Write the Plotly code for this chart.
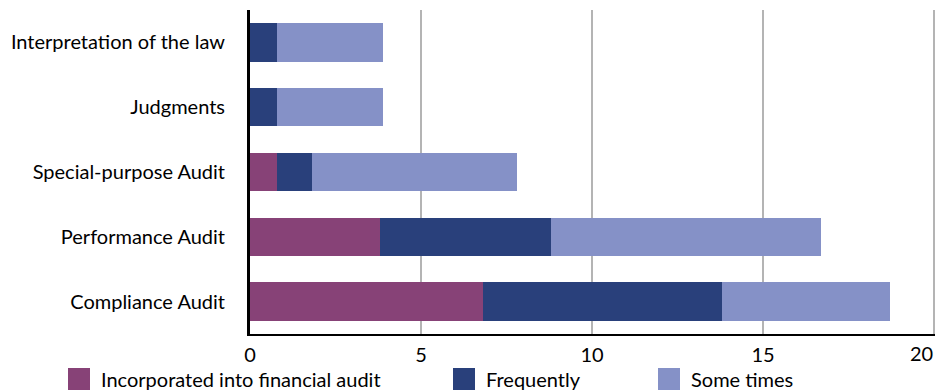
import plotly.graph_objects as go

# Audit types (bottom to top) and counts per frequency
categories = ["Compliance Audit", "Performance Audit", "Special-purpose Audit",
              "Judgments", "Interpretation of the law"]
incorporated = [6.8, 3.8, 0.8, 0.0, 0.0]
frequently = [7.0, 5.0, 1.0, 0.8, 0.8]
some_times = [4.9, 7.9, 6.0, 3.1, 3.1]

series_names = ["Incorporated into financial audit", "Frequently", "Some times"]
series_colors = ["#874277", "#29407b", "#8591c7"]
x_ticks = [0, 5, 10, 15, 20]
x_tick_labels = ["0", "5", "10", "15", "20"]

FONT = "Lato"
FS = 20

fig = go.Figure()
for name, vals, col in zip(series_names, [incorporated, frequently, some_times], series_colors):
    fig.add_trace(go.Bar(
        y=categories, x=vals, name=name, orientation="h",
        marker=dict(color=col, line=dict(width=0)),
        showlegend=False,
    ))

W, H = 943, 391
L, R, T, B = 250, 8, 10, 57
pw = W - L - R
ph = H - T - B

# Legend drawn as coloured squares with labels below the axis
for (lx_px, name, col) in zip([68, 453, 658], series_names, series_colors):
    x0 = (lx_px - L) / pw
    x1 = (lx_px + 22 - L) / pw
    y0 = -(368 + 22 - (H - B)) / ph
    y1 = -(368 - (H - B)) / ph
    fig.add_shape(type="rect", xref="paper", yref="paper",
                  x0=x0, x1=x1, y0=y0, y1=y1,
                  fillcolor=col, line=dict(width=0))
    fig.add_annotation(xref="paper", yref="paper",
                       x=(lx_px + 31 - L) / pw, y=-(379 - (H - B)) / ph,
                       text=name, showarrow=False, xanchor="left", yanchor="middle",
                       font=dict(family=FONT, size=FS, color="black"))

# The last tick label is right-aligned to its gridline so it stays inside the frame
axis_labels = x_tick_labels[:-1] + [""]
fig.add_annotation(xref="x", yref="paper", x=x_ticks[-1], y=-(353 - (H - B)) / ph,
                   text=x_tick_labels[-1], showarrow=False,
                   xanchor="right", yanchor="middle", xshift=1,
                   font=dict(family=FONT, size=FS, color="black"))

fig.update_layout(
    barmode="stack",
    bargap=0.41,
    width=W, height=H,
    margin=dict(l=L, r=R, t=T, b=B, autoexpand=False),
    paper_bgcolor="white",
    plot_bgcolor="white",
    font=dict(family=FONT, size=FS, color="black"),
    xaxis=dict(
        range=[0, 20.03], tickvals=x_ticks, ticktext=axis_labels,
        showgrid=True, gridcolor="#b4b4b4", gridwidth=1.5,
        zeroline=False, showline=True, linecolor="black", linewidth=2,
        ticks="", ticklabelstandoff=2, ticklabeloverflow="allow",
        automargin=False,
    ),
    yaxis=dict(
        categoryorder="array", categoryarray=categories,
        showgrid=False, zeroline=False,
        showline=True, linecolor="black", linewidth=3,
        ticks="", ticklabelstandoff=18, automargin=False,
    ),
)

fig.write_html("out.html")
